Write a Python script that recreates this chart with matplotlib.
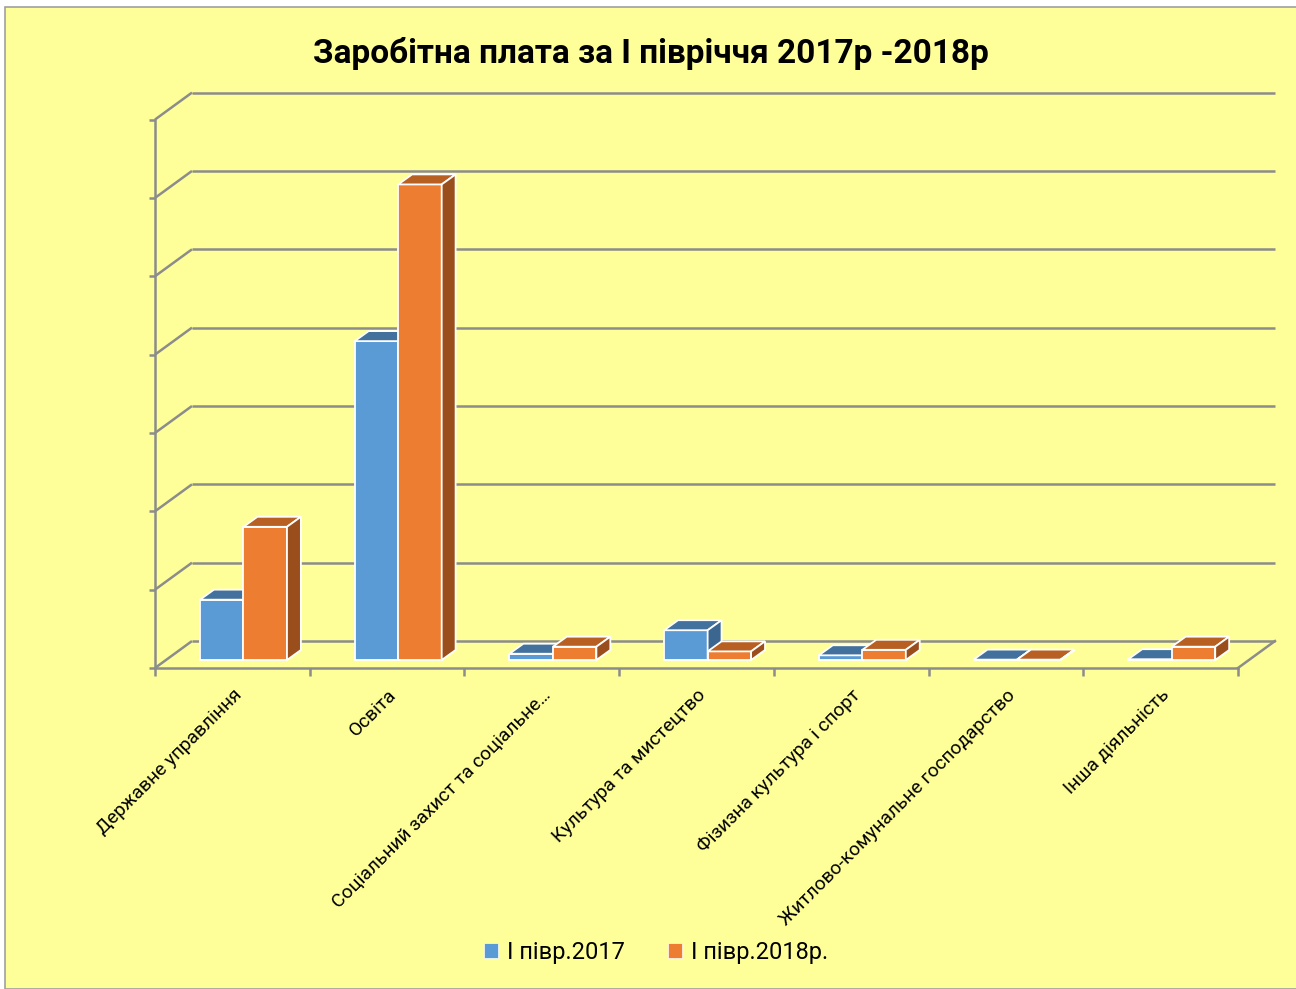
import numpy as np
import matplotlib.pyplot as plt
from matplotlib.patches import Polygon, Rectangle, Patch

# data (in gridline units)
categories = ['Державне управління', 'Освіта', 'Соціальний захист та соціальне…',
              'Культура та мистецтво', 'Фізизна культура і спорт',
              'Житлово-комунальне господарство', 'Інша діяльність']
val_2017 = [0.77, 4.07, 0.08, 0.38, 0.06, 0.005, 0.01]
val_2018 = [1.70, 6.07, 0.17, 0.11, 0.13, 0.005, 0.17]
series_names = ['І півр.2017', 'І півр.2018р.']
grid_levels = np.arange(0, 8)

# colours
bg = '#FFFF99'
line_c = '#8C8C8C'
blue = ('#5B9BD5', '#41719C', '#3A6690')     # front, top, side
orange = ('#ED7D31', '#B85F22', '#9A4E1C')

plt.rcParams['font.family'] = ['Roboto', 'DejaVu Sans']

W, H = 1296, 989
fig = plt.figure(figsize=(W / 100, H / 100), dpi=100, facecolor='white')
fig.patches.append(Rectangle((5 / W, 0), 1, 1 - 7 / H, transform=fig.transFigure,
                             facecolor=bg, edgecolor='#A0A0A0', lw=1.2, zorder=-5))

# pseudo 3d geometry (depth in data units)
Dx, Dy = 0.239, 0.344      # wall depth
fx, fy = 0.072, 0.102      # bar front plane
ddx, ddy = 0.09, 0.128     # bar depth
bw = 0.281                 # bar width
n = len(categories)

# axes so that x=0 -> px 155, x=7 -> px 1238, y=0 -> px 668, 78.35 px per unit
px_x, px_y = 154.71, 78.35
xlim = (-0.05, 7.3)
ylim = (-0.15, 7.45)
left = 155 + xlim[0] * px_x
right = 155 + xlim[1] * px_x
bottom = 668 - ylim[0] * px_y
top = 668 - ylim[1] * px_y
ax = fig.add_axes([left / W, 1 - bottom / H, (right - left) / W, (bottom - top) / H])
ax.set_xlim(xlim)
ax.set_ylim(ylim)
ax.patch.set_visible(False)
ax.set_zorder(2)

# walls
for k in grid_levels:
    ax.plot([0, Dx], [k, k + Dy], color=line_c, lw=1.8, zorder=1, solid_capstyle='butt')
    ax.plot([Dx, n + Dx], [k + Dy, k + Dy], color=line_c, lw=1.8, zorder=1,
            solid_capstyle='butt')
ax.plot([n, n + Dx], [0, Dy], color=line_c, lw=1.8, zorder=1)

# front edges via spines
for s in ['top', 'right']:
    ax.spines[s].set_visible(False)
ax.spines['left'].set_position(('data', 0))
ax.spines['bottom'].set_position(('data', 0))
ax.spines['left'].set_bounds(0, grid_levels[-1])
ax.spines['bottom'].set_bounds(0, n)
for s in ['left', 'bottom']:
    ax.spines[s].set_color(line_c)
    ax.spines[s].set_linewidth(1.8)
ax.set_yticks(grid_levels)
ax.set_yticklabels([])
ax.tick_params(axis='y', length=4, width=1.8, color=line_c)
ax.set_xticks(np.arange(n + 1))
ax.set_xticklabels([])
ax.tick_params(axis='x', which='major', length=6, width=1.8, color=line_c)
ax.set_xticks(np.arange(n) + 0.5, minor=True)
ax.set_xticklabels(categories, minor=True, rotation=45, ha='right',
                   rotation_mode='anchor', fontsize=13.8)
ax.tick_params(axis='x', which='minor', length=0, pad=13)


def bar3d(x0, v, cols):
    y0 = fy
    y1 = fy + v
    front = Polygon([(x0, y0), (x0 + bw, y0), (x0 + bw, y1), (x0, y1)])
    topf = Polygon([(x0, y1), (x0 + bw, y1), (x0 + bw + ddx, y1 + ddy), (x0 + ddx, y1 + ddy)])
    side = Polygon([(x0 + bw, y0), (x0 + bw + ddx, y0 + ddy),
                    (x0 + bw + ddx, y1 + ddy), (x0 + bw, y1)])
    for p, c in zip([front, topf, side], cols):
        p.set_facecolor(c)
        p.set_edgecolor('white')
        p.set_linewidth(1.3)
        p.set_joinstyle('miter')
        p.set_zorder(3)
        ax.add_patch(p)


for i in range(n):
    bar3d(i + 0.5 + fx - bw, val_2017[i], blue)
    bar3d(i + 0.5 + fx, val_2018[i], orange)

fig.text(651 / W, 1 - 53 / H, 'Заробітна плата за І півріччя 2017р -2018р',
         ha='center', va='center', fontsize=24, fontweight='bold')

handles = [Patch(facecolor=blue[0], edgecolor='white', lw=0.5),
           Patch(facecolor=orange[0], edgecolor='white', lw=0.5)]
fig.legend(handles, series_names, loc='center', bbox_to_anchor=(656 / W, 1 - 952 / H),
           ncol=2, frameon=False, fontsize=17, handlelength=0.6, handleheight=0.6,
           handletextpad=0.4, columnspacing=1.8)

fig.savefig('out.png', dpi=100, facecolor=fig.get_facecolor())
